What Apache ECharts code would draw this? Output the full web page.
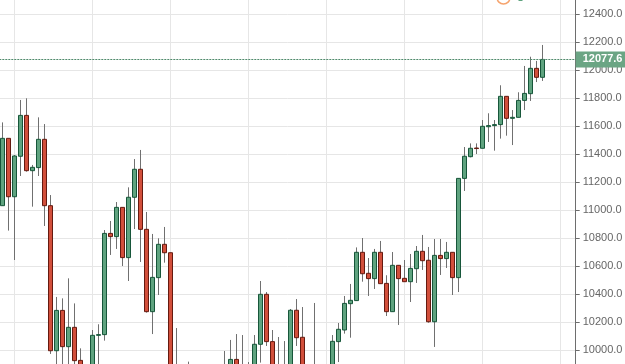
<!DOCTYPE html>
<html><head><meta charset="utf-8">
<style>html,body{margin:0;padding:0;background:#fff}#c{width:625px;height:364px}</style>
<script src="https://cdn.jsdelivr.net/npm/echarts@6/dist/echarts.min.js"></script>
</head><body><div id="c"></div>
<script>
// Each row: open, close, low, high (bars 0..90, left to right). Many lows run below the visible window (estimated).
var opens = [11033,11514,11097,11386,11678,11283,11305,11507,11033,9997,10285,10026,10164,9928,9790,9850,10107,10112,10835,10812,11021,10662,11093,11293,10864,10276,10519,10757,10697,9850,9800,9820,9810,9800,9830,9810,9820,9860,9860,9935,9840,9820,9850,10043,10400,10062,9850,9840,9860,10286,10093,9830,9840,9820,9810,9870,10062,10145,10333,10355,10700,10550,10512,10700,10478,10276,10607,10514,10490,10583,10707,10643,10204,10678,10655,10700,10519,11228,11383,11445,11443,11597,11605,11612,11814,11657,11664,11785,11833,12014,11950];
var closes = [11514,11097,11388,11678,11283,11307,11507,11033,9997,10285,10026,10164,9926,9830,9830,10107,10112,10835,10812,11021,10662,11093,11293,10864,10276,10521,10757,10697,9850,9880,9850,9860,9850,9840,9870,9850,9860,9890,9935,9850,9880,9860,10043,10400,10062,9860,9890,9880,10286,10090,9860,9870,9880,9860,9850,10064,10150,10335,10357,10700,10547,10512,10700,10476,10276,10607,10512,10490,10585,10707,10640,10204,10678,10655,10700,10519,11228,11386,11443,11441,11600,11605,11612,11814,11657,11664,11785,11835,12014,11950,12077.6];
var lows = [11033,10855,10645,11245,11276,11026,11245,10888,9974,9850,9860,9883,9902,9800,9760,9800,9835,10069,10681,10724,10602,10495,10866,10631,10269,10116,10395,10626,9800,9780,9770,9780,9770,9770,9790,9770,9780,9820,9800,9800,9790,9790,9800,9912,10031,9820,9820,9810,9820,10031,9820,9800,9800,9790,9780,9830,9916,10119,10090,10353,10490,10388,10438,10476,10245,10276,10181,10490,10345,10481,10574,10197,10024,10538,10588,10395,10416,11138,11378,11402,11443,11488,11426,11512,11533,11466,11664,11716,11781,11916,11924];
var highs = [11628,11514,11395,11788,11800,11324,11664,11616,11109,10381,10371,10514,10335,10014,9880,10145,10186,10859,10924,11059,11021,11164,11366,11431,10988,10831,10800,10881,10697,10159,9890,9919,9890,9880,9890,9890,9890,9995,10074,10116,10109,9916,10109,10495,10416,10145,10095,10066,10295,10366,10309,9890,10338,9890,9890,10109,10195,10388,10474,10735,10802,10659,10724,10781,10536,10702,10607,10645,10688,10745,10824,10738,10795,10795,10774,10700,11228,11452,11478,11478,11645,11693,11645,11893,11814,11716,11843,12031,12097,12067,12181];
var lastPrice = 12077.6;
var barOffset = 11;          // first bar sits at this x-axis value
var gridStep = 13;           // bars between vertical grid lines

var wickRows = opens.map(function(o,i){return [i+barOffset,o,closes[i],lows[i],highs[i]];});
var bodyRows = opens.map(function(o,i){var c=closes[i];return [i+barOffset,o,c,Math.min(o,c),Math.max(o,c)];});

var UP='#5fa37f',UPB='#17563a',DN='#d24f3b',DNB='#651a10',WICK='#707070',GRID='#e6e6e6';
var chart = echarts.init(document.getElementById('c'),null,{renderer:'canvas'});
chart.setOption({
  animation:false,
  backgroundColor:'#fff',
  grid:{left:-63.7,top:-13.7,width:639.4,height:392,containLabel:false,outerBoundsMode:'none'},
  xAxis:{type:'value',min:0,max:106.567,interval:gridStep,
    axisLine:{show:false},axisTick:{show:false},axisLabel:{show:false},
    splitLine:{show:true,showMinLine:false,showMaxLine:false,lineStyle:{color:GRID,width:1}}},
  yAxis:{type:'value',position:'right',min:9800,max:12600,interval:200,
    axisLine:{show:true,onZero:false,lineStyle:{color:'#6e6e6e',width:1}},
    axisTick:{show:true,length:4,lineStyle:{color:'#6e6e6e'}},
    axisLabel:{color:'#666666',fontFamily:'Arial, "Liberation Sans", sans-serif',fontSize:11,margin:7,padding:[2,0,0,0],
      formatter:function(v){return v.toFixed(1);}},
    splitLine:{show:true,lineStyle:{color:GRID,width:1}}},
  graphic:[
    {type:'circle',shape:{cx:503.5,cy:-2.5,r:6.5},style:{fill:'#fff',stroke:'#f6a46e',lineWidth:1.5},silent:true,z:5},
    {type:'rect',shape:{x:518.5,y:0,width:4,height:1},style:{fill:'#5fa37f'},silent:true,z:5}
  ],
  series:[
    {type:'candlestick',name:'wicks',data:wickRows,barWidth:1,z:2,silent:true,
      encode:{x:0,y:[1,2,3,4]},
      itemStyle:{color:WICK,color0:WICK,borderColor:WICK,borderColor0:WICK,borderWidth:1}},
    {type:'candlestick',name:'bodies',data:bodyRows,barWidth:4,z:3,
      encode:{x:0,y:[1,2,3,4]},
      itemStyle:{color:UP,color0:DN,borderColor:UPB,borderColor0:DNB,borderWidth:1},
      markLine:{silent:true,symbol:'none',animation:false,
        lineStyle:{color:'#4f8a6b',type:[2,1],width:1},
        label:{show:true,position:'end',distance:0,formatter:function(){return lastPrice.toFixed(1);},
          color:'#fff',fontWeight:'bold',fontSize:11,fontFamily:'Arial, "Liberation Sans", sans-serif',
          backgroundColor:'#6ba584',padding:[3,4,3,7],width:39,lineHeight:10},
        data:[{yAxis:lastPrice}]}}
  ]
});
</script></body></html>
